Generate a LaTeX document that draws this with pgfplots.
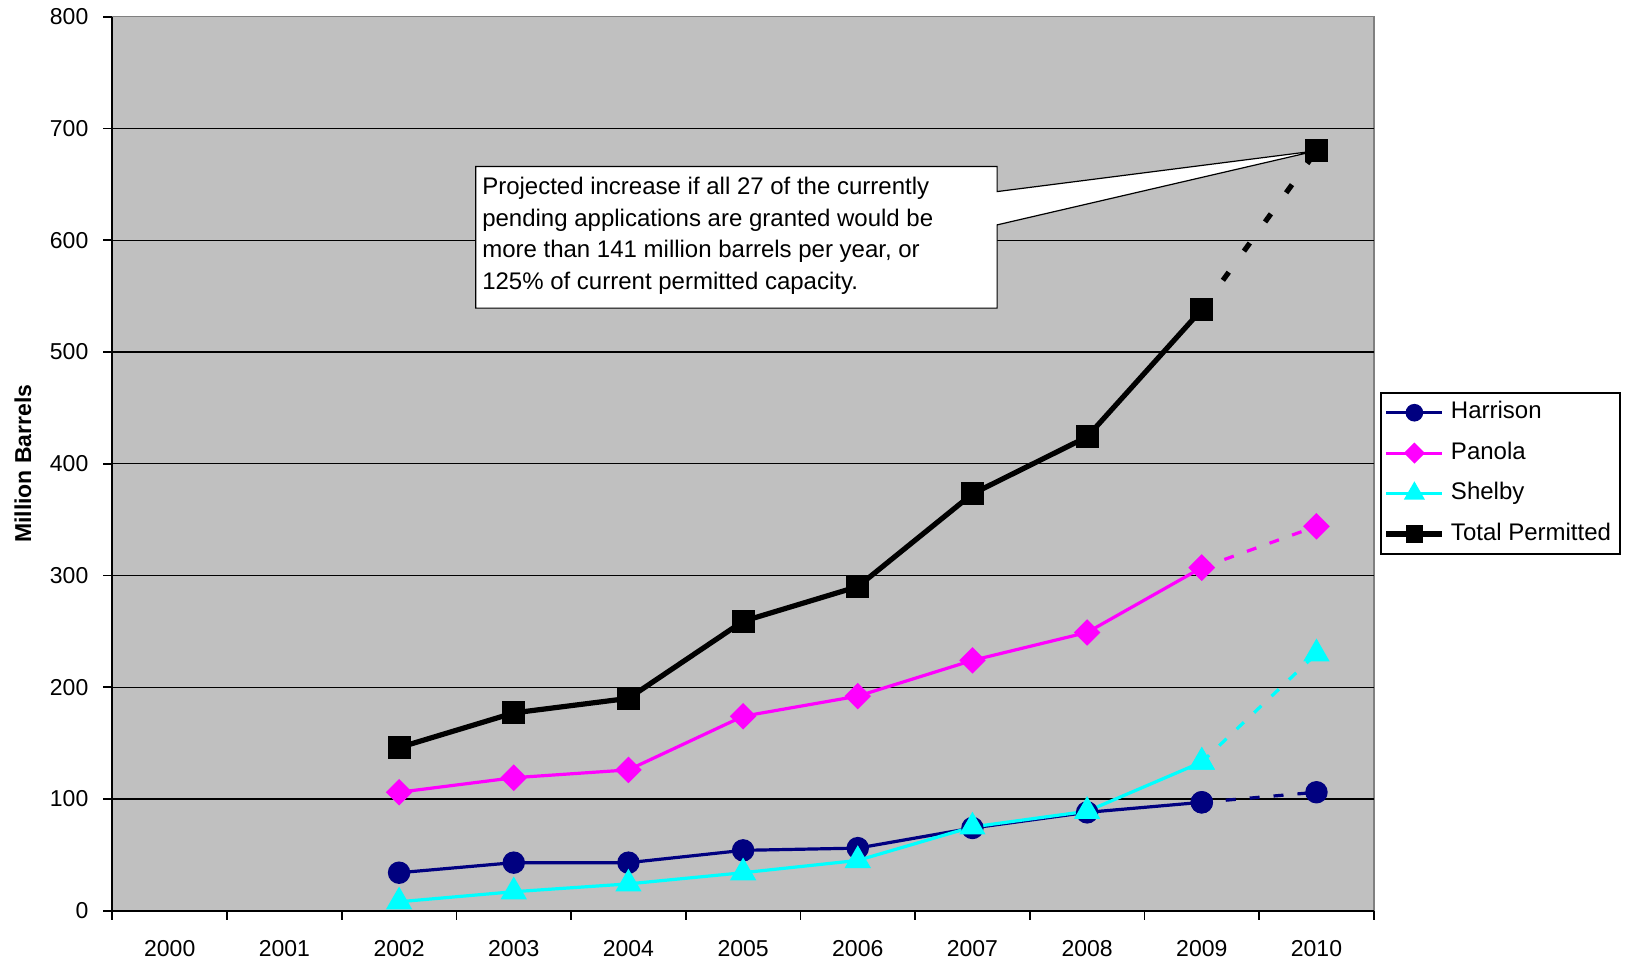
\documentclass[border=0pt]{standalone}
\usepackage{pgfplots}
\pgfplotsset{compat=1.18}
\usepackage{fontspec}
\setmainfont{Liberation Sans}
\definecolor{bggray}{HTML}{C0C0C0}
\definecolor{bordergray}{HTML}{808080}
\definecolor{navy}{HTML}{000080}
\definecolor{magenta}{HTML}{FF00FF}
\definecolor{cyanc}{HTML}{00FFFF}
\begin{document}
\begin{tikzpicture}
\useasboundingbox (-56.2pt,-26.65pt) rectangle (759.8pt,455.35pt);
\begin{axis}[
  at={(0,0)}, anchor=south west,
  scale only axis, width=630.7pt, height=447pt,
  xmin=-0.5, xmax=10.5, ymin=0, ymax=800,
  xtick={0,...,10},
  xticklabels={2000,2001,2002,2003,2004,2005,2006,2007,2008,2009,2010},
  major x tick style={draw=none},
  minor xtick={-0.5,0.5,...,10.5},
  ytick={0,100,...,800},
  extra y ticks={100,200,...,700},
  extra y tick labels={},
  extra y tick style={grid=major, major grid style={black, line width=0.6pt}},
  tick align=outside,
  major tick length=4.5pt, minor tick length=4.5pt,
  tick style={black, line width=0.9pt},
  axis x line*=bottom, axis y line*=left,
  axis line style={black, line width=1.1pt, -},
  axis background/.style={fill=bggray, draw=bordergray, line width=0.8pt},
  /pgf/number format/assume math mode=true,
  ticklabel style={font=\fontsize{11.5}{13}\selectfont},
  xticklabel style={yshift=-7pt},
  yticklabel style={xshift=-4pt},
  ylabel={Million Barrels},
  every axis y label/.style={at={(axis description cs:0,0.5)}, xshift=-44.7pt, rotate=90, anchor=center,
    font=\bfseries\fontsize{11.5}{13}\selectfont},
  legend style={at={(1.0049,0.5803)}, anchor=north west, draw=black, line width=0.8pt,
    font=\fontsize{12}{14}\selectfont, fill=white,
    nodes={text height=8.6pt, text depth=2.4pt, inner sep=3pt},
    row sep=3.2pt, inner xsep=1.5pt, inner ysep=1.5pt},
  legend cell align=left,
  legend image code/.code={\draw[mark repeat=2,mark phase=2,every mark/.append style={scale=0.75}] plot coordinates {(0pt,0pt)(14pt,0pt)(28pt,0pt)};},
]
% callout
\draw[black, line width=0.6pt, fill=white]
  (axis cs:2.668,665.9) -- (axis cs:7.215,665.9) -- (axis cs:7.215,643.5)
  -- (axis cs:10,680) -- (axis cs:7.215,613.7) -- (axis cs:7.215,539.2)
  -- (axis cs:2.668,539.2) -- cycle;
\node[anchor=base west, align=left, inner sep=0pt, font=\fontsize{12}{15.8}\selectfont]
  at ([xshift=3.1pt, yshift=-61.4pt]axis cs:2.668,665.9)
  {Projected increase if all 27 of the currently\\pending applications are granted would be\\more than 141 million barrels per year, or\\125\% of current permitted capacity.};

% Harrison
\addplot[navy, line width=1.6pt, mark=*, mark size=4.8pt, mark options={solid}] coordinates {
 (2,34) (3,43) (4,43) (5,54) (6,56) (7,74) (8,88) (9,97)};
\addlegendentry{Harrison}
\addplot[navy, line width=1.6pt, dash pattern=on 5pt off 7pt, mark=*, mark size=4.8pt, mark options={solid}, forget plot] coordinates {
 (9,97) (10,106)};
% Panola
\addplot[magenta, line width=1.6pt, mark=square*, mark size=3.9pt, mark options={solid, rotate=45}] coordinates {
 (2,106) (3,119) (4,126) (5,174) (6,192) (7,224) (8,249) (9,307)};
\addlegendentry{Panola}
\addplot[magenta, line width=1.6pt, dash pattern=on 5pt off 7pt, mark=square*, mark size=3.9pt, mark options={solid, rotate=45}, forget plot] coordinates {
 (9,307) (10,344)};
% Shelby
\addplot[cyanc, line width=1.6pt, mark=triangle*, mark size=6pt, mark options={solid}] coordinates {
 (2,8) (3,17) (4,24) (5,34) (6,45) (7,75) (8,89) (9,133)};
\addlegendentry{Shelby}
\addplot[cyanc, line width=1.6pt, dash pattern=on 5pt off 7pt, mark=triangle*, mark size=6pt, mark options={solid}, forget plot] coordinates {
 (9,133) (10,230)};
% Total
\addplot[black, line width=2.6pt, mark=square*, mark size=5.5pt, mark options={solid, line width=0.5pt}] coordinates {
 (2,146) (3,177) (4,190) (5,259) (6,290) (7,373) (8,424) (9,538)};
\addlegendentry{Total Permitted}
\addplot[black, line width=2.6pt, dash pattern=on 5pt off 13pt, mark=square*, mark size=5.5pt, mark options={solid, line width=0.5pt}, forget plot] coordinates {
 (9,538) (10,680)};
\end{axis}
\end{tikzpicture}
\end{document}
